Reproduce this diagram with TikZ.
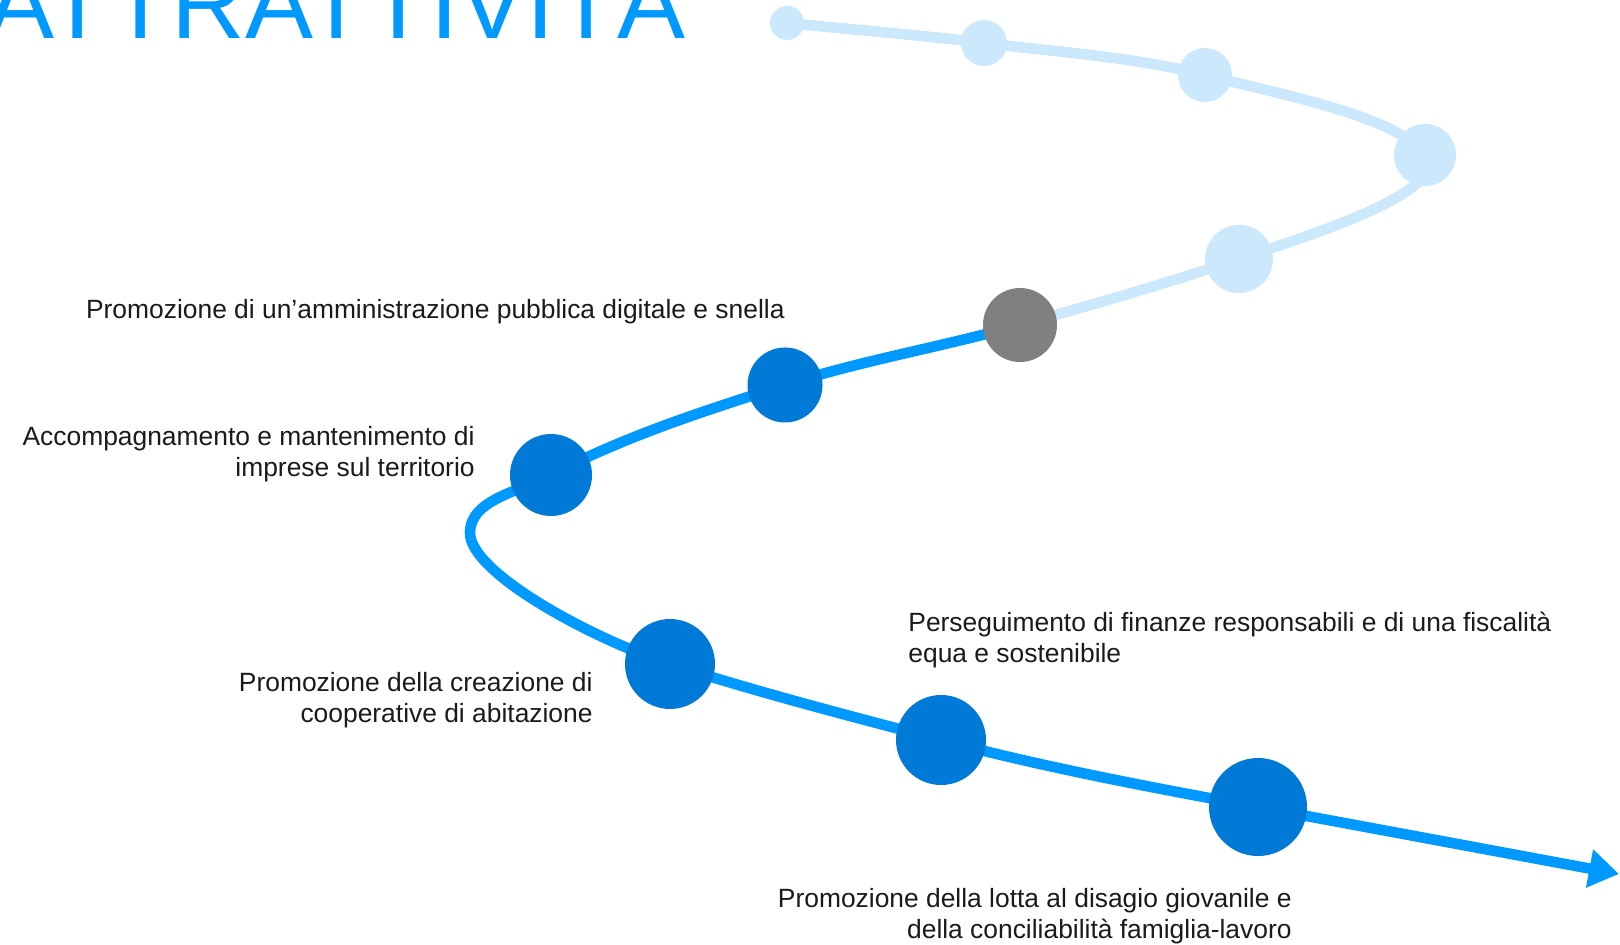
\documentclass[tikz,border=0pt]{standalone}
\usepackage{fontspec}
\setmainfont{Liberation Sans}
\usetikzlibrary{arrows.meta}
\definecolor{lightpath}{HTML}{CCE8FD}
\definecolor{brightblue}{HTML}{0099FF}
\definecolor{dotblue}{HTML}{007AD6}
\definecolor{dotgrey}{HTML}{808080}
\definecolor{labeltext}{HTML}{1A1A1A}
\begin{document}
\begin{tikzpicture}[x=0.5pt,y=-0.5pt,
  lightline/.style={draw=lightpath,line width=5.3pt},
  blueline/.style={draw=brightblue,line width=5.3pt},
  dot/.style={circle,inner sep=0pt,draw=none},
  lightdot/.style={dot,fill=lightpath},
  bluedot/.style={dot,fill=dotblue},
  greydot/.style={dot,fill=dotgrey},
  lbl/.style={inner sep=0pt,text=labeltext,font=\fontsize{13.2}{15.5}\selectfont},
  titletext/.style={inner sep=0pt,text=brightblue,font=\fontsize{51}{60}\selectfont}
]
\useasboundingbox (0,0) rectangle (1620,945);

% path points
\coordinate (l1) at (787,23);
\coordinate (l2) at (984,43);
\coordinate (l3) at (1205,75);
\coordinate (l4) at (1425,155);
\coordinate (l5) at (1239,259);
\coordinate (g)  at (1020,325);
\coordinate (b1) at (785,385);
\coordinate (b2) at (551,475);
\coordinate (bend) at (470,533);
\coordinate (b3) at (670,664);
\coordinate (b4) at (941,740);
\coordinate (b5) at (1258,807);
\coordinate (tip) at (1619,874);

% title
\node[titletext,anchor=base west] (title) at (-14,39) {ATTRATTIVITÀ};

% light (future) part of the path
\draw[lightline] (l1)
  .. controls (852.7,29.6) and (918.5,34.9) .. (l2)
  .. controls (1057.8,52.2) and (1132.9,56.7) .. (l3)
  .. controls (1280.6,94.2) and (1400.2,117.4) .. (l4)
  .. controls (1449.8,192.6) and (1306.5,236.3) .. (l5)
  .. controls (1166.6,283.4) and (1093.4,304.4) .. (g);

% blue (done) part of the path
\draw[blueline,-{Triangle[length=15pt,width=18.5pt]}] (g)
  .. controls (942.2,346.8) and (861.9,360.4) .. (b1)
  .. controls (705.4,410.5) and (626,435.7) .. (b2)
  .. controls (522,491.1) and (470,498.7) .. (bend)
  .. controls (470,573) and (593.1,639.3) .. (b3)
  .. controls (759.3,692.7) and (850.3,716.1) .. (b4)
  .. controls (1045.4,767.5) and (1151.8,787.6) .. (b5)
  -- (tip);

% dots
\node[lightdot,minimum size=17pt] (dl1) at (l1) {};
\node[lightdot,minimum size=23pt] (dl2) at (l2) {};
\node[lightdot,minimum size=27pt] (dl3) at (l3) {};
\node[lightdot,minimum size=31pt] (dl4) at (l4) {};
\node[lightdot,minimum size=34pt] (dl5) at (l5) {};
\node[greydot,minimum size=37pt] (dg) at (g) {};
\node[bluedot,minimum size=37.5pt] (db1) at (b1) {};
\node[bluedot,minimum size=41pt] (db2) at (b2) {};
\node[bluedot,minimum size=45pt] (db3) at (b3) {};
\node[bluedot,minimum size=45pt] (db4) at (b4) {};
\node[bluedot,minimum size=49pt] (db5) at (b5) {};

% labels (base anchor = baseline of the last line)
\node[lbl,anchor=base east] (t1) at (785,319) {Promozione di un’amministrazione pubblica digitale e snella};
\node[lbl,anchor=base east,align=right] (t2) at (475,477) {Accompagnamento e mantenimento di\\imprese sul territorio};
\node[lbl,anchor=base east,align=right] (t3) at (593,722) {Promozione della creazione di\\cooperative di abitazione};
\node[lbl,anchor=base west,align=left] (t4) at (908,662) {Perseguimento di finanze responsabili e di una fiscalità\\equa e sostenibile};
\node[lbl,anchor=base east,align=right] (t5) at (1292,938) {Promozione della lotta al disagio giovanile e\\della conciliabilità famiglia-lavoro};
\end{tikzpicture}
\end{document}
